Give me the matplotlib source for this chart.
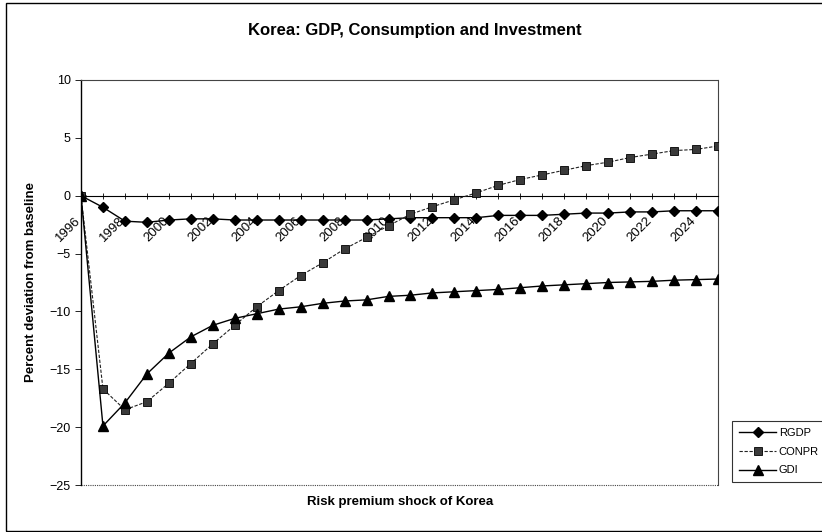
import numpy as np
import matplotlib
matplotlib.use('Agg')
import matplotlib.pyplot as plt
import matplotlib.transforms as mtransforms
from matplotlib.patches import Rectangle

# Years on the category axis
years = np.arange(1996, 2026)
tick_years = list(range(1996, 2026, 2))

# Percent deviation from baseline
rgdp = [0.0, -1.0, -2.2, -2.3, -2.1, -2.0, -2.0, -2.1, -2.1, -2.1,
        -2.1, -2.1, -2.1, -2.1, -2.0, -1.9, -1.9, -1.9, -1.9, -1.7,
        -1.7, -1.7, -1.6, -1.5, -1.5, -1.4, -1.4, -1.3, -1.3, -1.3]
conpr = [0.0, -16.7, -18.5, -17.8, -16.2, -14.5, -12.8, -11.2, -9.6, -8.2,
         -6.9, -5.8, -4.6, -3.6, -2.6, -1.6, -0.95, -0.35, 0.25, 0.9,
         1.4, 1.8, 2.2, 2.6, 2.9, 3.3, 3.6, 3.9, 4.0, 4.3]
gdi = [0.0, -19.9, -17.9, -15.4, -13.6, -12.2, -11.2, -10.6, -10.2, -9.8,
       -9.6, -9.3, -9.1, -9.0, -8.7, -8.6, -8.4, -8.3, -8.2, -8.1,
       -7.95, -7.8, -7.7, -7.6, -7.5, -7.45, -7.4, -7.3, -7.25, -7.2]

plt.rcParams['font.family'] = ['Liberation Sans', 'DejaVu Sans']

fig = plt.figure(figsize=(8.22, 5.32), dpi=100)
ax = fig.add_axes([81 / 822, 1 - 485 / 532, (718 - 81) / 822, (485 - 80) / 532])

ax.plot(years, rgdp, color='black', lw=1.0, marker='D', ms=5,
        mfc='black', mec='black', label='RGDP', zorder=3)
ax.plot(years, conpr, color='#222222', lw=0.8, ls=(0, (3, 1.5)), marker='s', ms=5.5,
        mfc='#3a3a3a', mec='black', mew=0.6, label='CONPR', zorder=3)
ax.plot(years, gdi, color='black', lw=1.0, marker='^', ms=7,
        mfc='black', mec='black', label='GDI', zorder=3)

ax.set_xlim(1996, 2025)
ax.set_ylim(-25, 10)
ax.set_yticks(range(-25, 11, 5))

# category axis sits at zero, box drawn dotted
ax.spines['bottom'].set_position(('data', 0))
ax.spines['bottom'].set_linewidth(0.8)
ax.spines['left'].set_linewidth(1.0)
for s in ['top', 'right']:
    ax.spines[s].set_linestyle((0, (1, 1)))
    ax.spines[s].set_linewidth(0.8)
    ax.spines[s].set_color('#444444')
ax.plot([0, 1], [0, 0], transform=ax.transAxes, color='#444444',
        lw=0.8, ls=(0, (1, 1)), clip_on=False)

ax.tick_params(axis='x', direction='inout', length=5, width=0.6, pad=11)
ax.tick_params(axis='y', direction='out', length=4, width=0.6, labelsize=9)

ax.set_xticks(years)
ax.set_xticklabels([str(y) if y in tick_years else '' for y in years], fontsize=9.5)
shift = mtransforms.ScaledTranslation(-6 / 100, 0, fig.dpi_scale_trans)
for lab in ax.get_xticklabels():
    lab.set_rotation(45)
    lab.set_rotation_mode('anchor')
    lab.set_ha('right')
    lab.set_va('top')
    lab.set_transform(lab.get_transform() + shift)

ax.set_ylabel('Percent deviation from baseline', fontsize=9.5, fontweight='bold', labelpad=9)
fig.text(400 / 822, 1 - 502 / 532, 'Risk premium shock of Korea', ha='center', va='center',
         fontsize=9.5, fontweight='bold')
fig.text(415 / 822, 1 - 30 / 532, 'Korea: GDP, Consumption and Investment', ha='center',
         va='center', fontsize=12, fontweight='bold')

leg = fig.legend(loc='upper left', bbox_to_anchor=(732 / 822, 1 - 421 / 532),
                 fontsize=8, frameon=True, fancybox=False, borderpad=0.6,
                 handlelength=3.4, handletextpad=0.2, labelspacing=0.8, borderaxespad=0)
leg.get_frame().set_edgecolor('black')
leg.get_frame().set_linewidth(0.8)

# outer chart border
fig.patches.append(Rectangle((6 / 822, 1 / 532), 1.0, 1 - 4 / 532, transform=fig.transFigure,
                             fill=False, edgecolor='black', lw=1.0))

fig.savefig('out.png', dpi=100)
